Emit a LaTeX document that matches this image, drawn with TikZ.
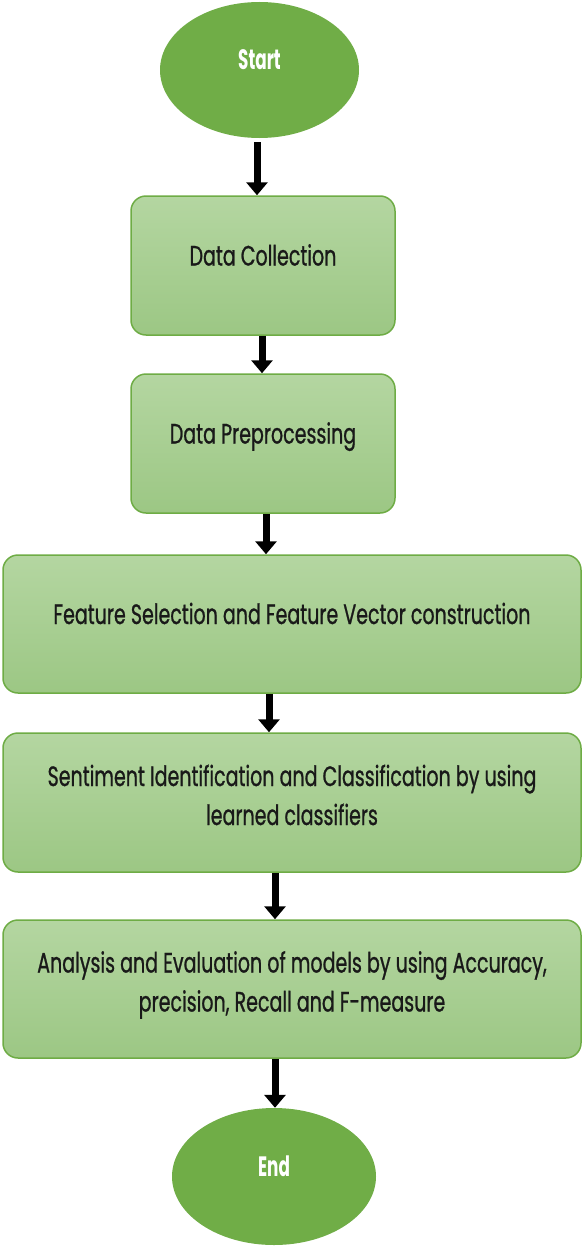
\documentclass[tikz,border=0pt]{standalone}
\usepackage{fontspec}
\setmainfont[FakeStretch=0.68]{Poppins}
\newfontfamily\boxfont[FakeStretch=0.68,FakeBold=0.8]{Poppins}
\newfontfamily\termfont[FakeStretch=0.6]{Poppins}
\usetikzlibrary{shapes.geometric,arrows.meta}
\definecolor{okgreen}{HTML}{70AD47}
\definecolor{boxtop}{HTML}{B4D6A1}
\definecolor{boxbot}{HTML}{9CC784}
\definecolor{boxline}{HTML}{6EAC45}
\begin{document}
\begin{tikzpicture}[x=1pt,y=-1pt,
    term/.style={ellipse,fill=okgreen,inner sep=0pt,text=white,
      font=\termfont\fontsize{28}{34}\selectfont\bfseries,text height=20pt,text depth=20pt},
    stepbox/.style={rectangle,rounded corners=15pt,draw=boxline,line width=1.5pt,
      top color=boxtop,bottom color=boxbot,inner sep=0pt,text=black!90,align=center,
      font=\boxfont\fontsize{28}{39}\selectfont,text height=20pt,text depth=20pt},
    twoline/.style={text height=65pt,text depth=20pt},
    flow/.style={line width=7pt,-{Triangle[width=21pt,length=13pt]}}]
  \useasboundingbox (0,0) rectangle (583,1247);
  \node[term,minimum width=199pt,minimum height=136pt] (start) at (259.5,70) {Start};
  \node[stepbox,minimum width=264pt,minimum height=139pt] (collect) at (263,265.5) {Data Collection};
  \node[stepbox,minimum width=264pt,minimum height=139pt] (preproc) at (263,443.5) {Data Preprocessing};
  \node[stepbox,minimum width=578pt,minimum height=138pt] (feature) at (292,624) {Feature Selection and Feature Vector construction};
  \node[stepbox,twoline,minimum width=578pt,minimum height=139pt] (classify) at (292,802.5) {Sentiment Identification and Classification by using\\learned classifiers};
  \node[stepbox,twoline,minimum width=578pt,minimum height=138pt] (evaluate) at (292,989) {Analysis and Evaluation of models by using Accuracy,\\precision, Recall and F-measure};
  \node[term,minimum width=204pt,minimum height=137pt] (stop) at (274,1176.5) {End};
  % arrows between the steps
  \draw[flow,shorten <=4pt] ([xshift=-2.5pt]start.south) -- ([xshift=-6pt]collect.north);
  \draw[flow] ([xshift=-1pt]collect.south) -- ([xshift=-1pt]preproc.north);
  \draw[flow] ([xshift=3pt]preproc.south) -- ([xshift=-26pt]feature.north);
  \draw[flow] ([xshift=-23pt]feature.south) -- ([xshift=-23pt]classify.north);
  \draw[flow] ([xshift=-17pt]classify.south) -- ([xshift=-17pt]evaluate.north);
  \draw[flow] ([xshift=-17pt]evaluate.south) -- ([xshift=1pt]stop.north);
\end{tikzpicture}
\end{document}
